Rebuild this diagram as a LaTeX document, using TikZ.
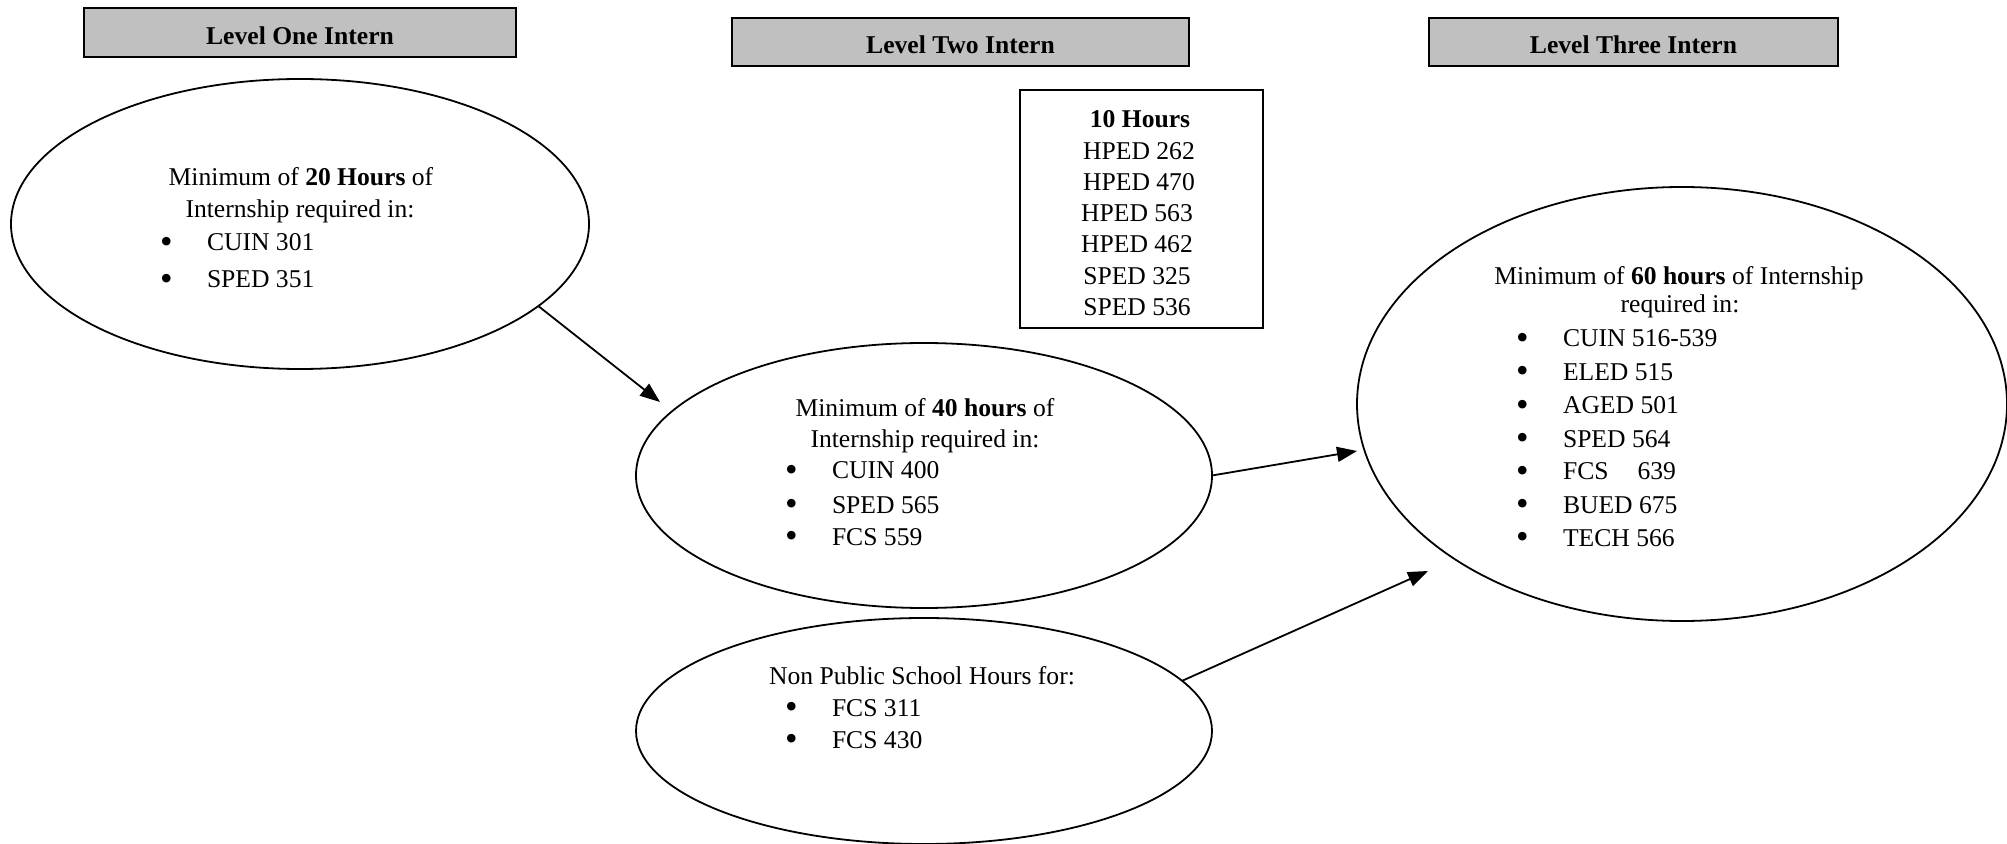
\documentclass[tikz,border=0pt]{standalone}
\usepackage{fontspec}
\setmainfont{Liberation Serif}
\usepackage{graphicx}
\usetikzlibrary{arrows.meta,shapes.geometric}
\definecolor{hdrgray}{HTML}{C0C0C0}
\newcommand{\bul}{\llap{\makebox[23.5pt][l]{\raisebox{-1.4pt}{\scalebox{1.4}{\textbullet}}}}}
\begin{document}
\begin{tikzpicture}[x=0.5pt,y=-0.5pt,
  every node/.style={inner sep=0pt, outer sep=0pt},
  ell/.style={draw, ellipse, line width=0.9pt},
  hdr/.style={draw, fill=hdrgray, line width=0.9pt, font=\fontsize{12.8}{15}\selectfont\bfseries, text height=12pt, text depth=0pt},
  hbox/.style={draw, line width=0.9pt},
  txt/.style={anchor=base, font=\fontsize{12.8}{15}\selectfont},
  ltxt/.style={anchor=base west, font=\fontsize{12.8}{15}\selectfont},
  arr/.style={line width=0.9pt, -{Triangle[length=10pt,width=7.5pt]}}]
\useasboundingbox (0,0) rectangle (2007,844);

% headers
\node[hdr, minimum width=216pt, minimum height=24.5pt] (h1) at (300,32.5) {Level One Intern};
\node[hdr, minimum width=228.5pt, minimum height=24pt] (h2) at (960.5,42) {Level Two Intern};
\node[hdr, minimum width=204.5pt, minimum height=24pt] (h3) at (1633.5,42) {Level Three Intern};

% 10 hours box
\node[hbox, minimum width=121.5pt, minimum height=119pt] (hrs) at (1141.5,209) {};
\node[txt] (hrs0) at (1140,128) {\textbf{10 Hours}};
\node[txt] (hrs1) at (1139,160) {HPED 262};
\node[txt] (hrs2) at (1139,191) {HPED 470};
\node[txt] (hrs3) at (1137,222) {HPED 563};
\node[txt] (hrs4) at (1137,253) {HPED 462};
\node[txt] (hrs5) at (1137,285) {SPED 325};
\node[txt] (hrs6) at (1137,316) {SPED 536};

% ellipses
\node[ell, minimum width=289pt, minimum height=145pt] (e1) at (300,224) {};
\node[ell, minimum width=288pt, minimum height=132.5pt] (e2) at (924,475.5) {};
\node[ell, minimum width=288pt, minimum height=113pt] (e3) at (924,731) {};
\node[ell, minimum width=325pt, minimum height=217pt] (e4) at (1682,404) {};

% ellipse 1 text
\node[txt] (e1a) at (301,186) {Minimum of \textbf{20 Hours} of};
\node[txt] (e1b) at (300,218) {Internship required in:};
\node[ltxt] (e1c) at (207,251) {\bul CUIN 301};
\node[ltxt] (e1d) at (207,288) {\bul SPED 351};

% ellipse 2 text
\node[txt] (e2a) at (925,416) {Minimum of \textbf{40 hours} of};
\node[txt] (e2b) at (925,447) {Internship required in:};
\node[ltxt] (e2c) at (832,479) {\bul CUIN 400};
\node[ltxt] (e2d) at (832,513) {\bul SPED 565};
\node[ltxt] (e2e) at (832,545) {\bul FCS 559};

% ellipse 3 text
\node[txt] (e3a) at (922,684) {Non Public School Hours for:};
\node[ltxt] (e3b) at (832,716) {\bul FCS 311};
\node[ltxt] (e3c) at (832,748) {\bul FCS 430};

% ellipse 4 text
\node[txt] (e4a) at (1679,285) {Minimum of \textbf{60 hours} of Internship};
\node[txt] (e4b) at (1680,313) {required in:};
\node[ltxt] (e4c) at (1563,347) {\bul CUIN 516-539};
\node[ltxt] (e4d) at (1563,380) {\bul ELED 515};
\node[ltxt] (e4e) at (1563,414) {\bul AGED 501};
\node[ltxt] (e4f) at (1563,447) {\bul SPED 564};
\node[ltxt] (e4g) at (1563,480) {\bul FCS\hspace{14.5pt}639};
\node[ltxt] (e4h) at (1563,513) {\bul BUED 675};
\node[ltxt] (e4i) at (1563,546) {\bul TECH 566};

% arrows
\coordinate (t1) at (660,402);
\coordinate (t2) at (1357,451);
\coordinate (t3) at (1428,571);
\draw[arr] (e1.-19) -- (t1);
\draw[arr] (e2.east) -- (t2);
\draw[arr] (e3.11) -- (t3);
\end{tikzpicture}
\end{document}
